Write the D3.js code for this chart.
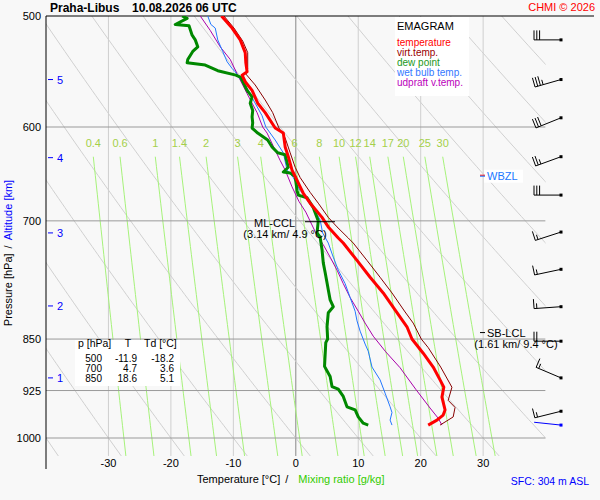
<!DOCTYPE html>
<html>
<head>
<meta charset="utf-8">
<script src="https://cdn.jsdelivr.net/npm/d3@7"></script>
<style>
body { margin: 0; background: #f8f8f8; }
svg { display: block; font-family: "Liberation Sans", Arial, sans-serif; }
</style>
</head>
<body>
<script>
// sounding data (p in hPa, T in °C)
tempP = [500,510,520,531,540,548,551,557,565,577,586,601,606,620,630,644,655,669,680,696,707,720,726,747,768,788,814,833,850,870,890,909,920,935,955,963,971,979]
tempT = [-11.9,-10.2,-8.9,-8.1,-8.0,-7.8,-8.6,-8.1,-7.0,-6.1,-4.9,-3.3,-2.0,-1.7,-1.2,-0.6,0.2,1.2,2.3,4.2,5.2,6.8,7.6,9.8,11.9,14.0,16.2,17.8,18.6,20.4,22.0,23.1,23.7,23.4,23.9,23.6,22.6,21.2]

virtP = [500,510,521,531,545,550,560,574,586,601,611,626,641,652,668,680,696,707,720,726,747,768,788,813,828,850,862,890,920,940,951,966,979]
virtT = [-11.5,-9.9,-8.5,-7.7,-7.7,-8.0,-6.5,-4.9,-3.7,-2.7,-1.7,-0.9,-0.1,0.7,2.3,3.6,5.2,6.6,8.4,9.2,11.4,13.5,15.4,17.5,18.8,20.1,21.2,23.2,25.0,24.4,25.5,25.2,23.1]

dewP = [500,502,507,508,516,520,526,530,537,540,542,547,551,553,565,571,577,584,590,596,601,606,613,620,626,628,641,646,647,651,666,671,674,685,700,714,719,734,750,762,775,784,797,806,814,833,850,855,889,904,919,923,934,950,955,966,976,979]
dewT = [-18.2,-17.4,-19.3,-17.1,-16.6,-16.1,-15.7,-16.5,-17.3,-17.4,-14.5,-12.5,-9.6,-8.8,-7.8,-7.0,-7.3,-6.9,-7.0,-6.9,-7.0,-6.1,-4.5,-3.8,-2.9,-1.7,-1.2,-2.0,-0.9,-0.1,0.2,0.4,1.8,2.8,3.6,3.4,3.9,4.2,4.4,4.7,5.0,5.2,5.5,6.0,5.2,5.0,5.1,4.8,4.6,5.5,5.8,6.8,7.6,8.2,9.5,10.0,10.8,11.6]

wetP = [500,507,510,520,530,539,545,548,553,563,575,589,600,613,626,644,652,666,674,684,699,714,726,743,759,776,794,812,825,839,857,867,890,909,929,950,959,971,979]
wetT = [-14.1,-13.6,-12.9,-12.5,-11.7,-11.0,-10.2,-9.7,-9.1,-7.8,-6.7,-5.4,-4.8,-3.3,-2.0,-1.4,-0.4,0.7,1.8,2.7,3.9,4.3,5.2,6.0,6.8,7.9,8.7,9.5,9.8,10.3,11.1,11.6,12.2,13.5,14.3,15.1,15.4,15.1,15.4]

parcelP = [500,512,526,537,551,568,586,600,606,634,644,662,678,690,714,728,743,759,776,794,812,828,846,868,891,923,952,968,979]
parcelT = [-15.3,-13.7,-12.1,-10.5,-9.3,-7.8,-6.2,-5.3,-4.6,-2.5,-1.7,-0.6,0.5,1.6,3.2,4.4,5.5,6.6,7.6,8.7,10.0,11.1,12.4,14.4,16.7,19.2,21.5,22.8,23.4]

// winds (deg, kt)
windP = [520,555,591,630,671,713,758,806,853,906,957,979]
windDir = [270,254,248,250,270,252,258,266,270,293,256,276]
windSpd = [30,35,30,25,30,15,15,15,20,15,15,0]

// table
tableP = [500,700,850]
tableT = [-11.9,4.7,18.6]
tableTd = [-18.2,3.6,5.1]

// axes
pTicks = [500,600,700,850,925,1000]
tTicks = [-30,-20,-10,0,10,20,30]
altKm = [1,2,3,4,5]
altP = [906,805,714,631,555]
mixW = [0.4,0.6,1,1.4,2,3,4,6,8,10,12,14,17,20,25,30]
thetas = d3.range(-50,140,10)

legendNames = ['temperature','virt.temp.','dew point','wet bulb temp.','udpraft v.temp.']
legendColors = ['#ff0000','#990000','#229922','#3377ff','#bb00bb']

function main(){
	w = 600
	h = 500
	pTop = 500
	pBot = 1030

	svg = d3.select('body').append('svg')
			.attr('width', w)
			.attr('height', h)

	svg.append('rect').attr('width', w).attr('height', h).attr('fill', '#f8f8f8')

	x = d3.scaleLinear().domain([-40, 40]).range([46, 545.6])
	y = d3.scaleLog().domain([500, 1000]).range([16, 438])

	svg.append('clipPath').attr('id', 'plot')
		.append('rect')
		.attr('x', x(-40)).attr('y', y(pTop))
		.attr('width', x(40) - x(-40)).attr('height', y(pBot) - y(pTop))

	grid = svg.append('g').attr('clip-path', 'url(#plot)')

	// temperature grid
	grid.selectAll('.vg').data(tTicks).enter()
		.append('line')
		.attr('x1', d => x(d)).attr('x2', d => x(d))
		.attr('y1', y(pTop)).attr('y2', y(pBot))
		.attr('stroke', d => d == 0 ? '#888' : '#cfcfcf')
		.attr('stroke-width', 1)

	// dry adiabats
	levels = d3.range(pTop, pBot + 1, 5)
	dry = d3.line()
		.x(d => x(d[1]))
		.y(d => y(d[0]))
	grid.selectAll('.dry').data(thetas).enter()
		.append('path')
		.attr('d', th => dry(levels.map(p => [p, (th + 273.15) * Math.pow(p / 1000, 0.2857) - 273.15])))
		.attr('fill', 'none')
		.attr('stroke', '#d0d0d0')
		.attr('stroke-width', 1)

	// mixing ratio lines
	function tdew(wr, p){
		let e = wr * p / (622 + wr)
		let l = Math.log(e / 6.112)
		return 243.5 * l / (17.67 - l)
	}
	mixLevels = d3.range(630, pBot + 1, 10)
	grid.selectAll('.mix').data(mixW).enter()
		.append('path')
		.attr('d', wr => dry(mixLevels.map(p => [p, tdew(wr, p)])))
		.attr('fill', 'none')
		.attr('stroke', '#a6f27a')
		.attr('stroke-width', 1)

	svg.selectAll('.mixlab').data(mixW).enter()
		.append('text')
		.attr('x', wr => x(tdew(wr, 630)))
		.attr('y', y(630) - 10)
		.attr('text-anchor', 'middle')
		.attr('font-size', 11)
		.attr('fill', '#a4d04a')
		.text(d => d)

	// pressure grid
	grid.selectAll('.hg').data(pTicks.slice(1)).enter()
		.append('line')
		.attr('x1', x(-40)).attr('x2', x(40))
		.attr('y1', d => y(d)).attr('y2', d => y(d))
		.attr('stroke', '#9a9a9a')

	// axes
	svg.append('line')
		.attr('x1', x(-40)).attr('x2', x(-40))
		.attr('y1', y(pTop)).attr('y2', 469)
		.attr('stroke', '#000')
	svg.append('line')
		.attr('x1', x(-40)).attr('x2', 594)
		.attr('y1', y(pTop)).attr('y2', y(pTop))
		.attr('stroke', '#000')

	svg.selectAll('.plab').data(pTicks).enter()
		.append('text')
		.attr('x', 41).attr('y', d => y(d) + 4)
		.attr('text-anchor', 'end')
		.attr('font-size', 11)
		.text(d => d)

	svg.selectAll('.tlab').data(tTicks).enter()
		.append('text')
		.attr('x', d => x(d)).attr('y', 467)
		.attr('text-anchor', 'middle')
		.attr('font-size', 11)
		.text(d => d)

	// altitude ticks
	alt = svg.selectAll('.alt').data(altKm).enter().append('g')
	alt.append('line')
		.attr('x1', 48).attr('x2', 53)
		.attr('y1', (d, i) => y(altP[i])).attr('y2', (d, i) => y(altP[i]))
		.attr('stroke', '#0000ff')
	alt.append('text')
		.attr('x', 57).attr('y', (d, i) => y(altP[i]) + 4)
		.attr('font-size', 11)
		.attr('fill', '#0000ff')
		.text(d => d)

	// axis titles
	yt = svg.append('text')
		.attr('transform', 'translate(12,253) rotate(-90)')
		.attr('text-anchor', 'middle')
		.attr('font-size', 11)
	yt.append('tspan').text('Pressure [hPa]')
	yt.append('tspan').attr('dx', 5).text('/')
	yt.append('tspan').attr('dx', 5).attr('fill', '#0000ff').text('Altitude [km]')

	xt = svg.append('text')
		.attr('x', 197).attr('y', 483)
		.attr('font-size', 11)
	xt.append('tspan').text('Temperature [°C]')
	xt.append('tspan').attr('dx', 5).text('/')
	xt.append('tspan').attr('dx', 10).attr('fill', '#33cc00').text('Mixing ratio [g/kg]')

	svg.append('text')
		.attr('x', 589).attr('y', 485)
		.attr('text-anchor', 'end')
		.attr('font-size', 10.5)
		.attr('fill', '#0000ff')
		.text('SFC: 304 m ASL')

	// title
	svg.append('text').attr('x', 50).attr('y', 11.5)
		.attr('font-size', 12).attr('font-weight', 'bold')
		.text('Praha-Libus')
	svg.append('text').attr('x', 132).attr('y', 11.5)
		.attr('font-size', 12).attr('font-weight', 'bold')
		.text('10.08.2026 06 UTC')
	svg.append('text').attr('x', 595).attr('y', 11)
		.attr('text-anchor', 'end')
		.attr('font-size', 11).attr('fill', '#ff0000')
		.text('CHMI © 2026')

	// legend
	svg.append('rect').attr('x', 395).attr('y', 17).attr('width', 74).attr('height', 79).attr('fill', '#fff')
	svg.append('text').attr('x', 397).attr('y', 30).attr('font-size', 11).text('EMAGRAM')
	svg.selectAll('.leg').data(legendNames).enter()
		.append('text')
		.attr('x', 397).attr('y', (d, i) => 46 + i * 10)
		.attr('font-size', 10)
		.attr('fill', (d, i) => legendColors[i])
		.text(d => d)

	// table
	svg.append('rect').attr('x', 75).attr('y', 340).attr('width', 105).attr('height', 46).attr('fill', '#fff')
	svg.append('text').attr('x', 78).attr('y', 347).attr('font-size', 10.5).text('p [hPa]')
	svg.append('text').attr('x', 128).attr('y', 347).attr('text-anchor', 'middle').attr('font-size', 10.5).text('T')
	svg.append('text').attr('x', 144).attr('y', 347).attr('font-size', 10.5).text('Td [°C]')
	rows = svg.selectAll('.row').data(tableP).enter().append('g')
	rows.append('text').attr('x', 102).attr('y', (d, i) => 361.5 + i * 10)
		.attr('text-anchor', 'end').attr('font-size', 10).text(d => d)
	rows.append('text').attr('x', 137).attr('y', (d, i) => 361.5 + i * 10)
		.attr('text-anchor', 'end').attr('font-size', 10).text((d, i) => tableT[i].toFixed(1))
	rows.append('text').attr('x', 174).attr('y', (d, i) => 361.5 + i * 10)
		.attr('text-anchor', 'end').attr('font-size', 10).text((d, i) => tableTd[i].toFixed(1))

	// profiles
	line = d3.line().x(d => x(d[1])).y(d => y(d[0]))
	function profile(ps, ts, color, width){
		svg.append('path')
			.attr('d', line(ps.map((p, i) => [p, ts[i]])))
			.attr('fill', 'none')
			.attr('stroke', color)
			.attr('stroke-width', width)
			.attr('stroke-linejoin', 'round')
			.attr('clip-path', 'url(#plot)')
	}
	profile(parcelP, parcelT, '#aa00aa', 1)
	profile(wetP, wetT, '#2277ff', 1)
	profile(virtP, virtT, '#880000', 1)
	profile(dewP, dewT, '#008800', 3)
	profile(tempP, tempT, '#ff0000', 3)

	// ML-CCL
	svg.append('line').attr('x1', 305).attr('x2', 335)
		.attr('y1', y(701)).attr('y2', y(701)).attr('stroke', '#000')
	svg.append('text').attr('x', 295).attr('y', y(701) + 5)
		.attr('text-anchor', 'end').attr('font-size', 11).text('ML-CCL')
	svg.append('text').attr('x', 285).attr('y', y(701) + 16)
		.attr('text-anchor', 'middle').attr('font-size', 11).text('(3.14 km/ 4.9 °C)')

	// SB-LCL
	svg.append('line').attr('x1', 480).attr('x2', 485)
		.attr('y1', y(841)).attr('y2', y(841)).attr('stroke', '#000')
	svg.append('text').attr('x', 487).attr('y', y(841) + 4)
		.attr('font-size', 11).text('SB-LCL')
	svg.append('text').attr('x', 516).attr('y', y(841) + 15)
		.attr('text-anchor', 'middle').attr('font-size', 11).text('(1.61 km/ 9.4 °C)')

	// WBZL
	svg.append('rect').attr('x', 484).attr('y', y(650) - 6).attr('width', 39).attr('height', 13).attr('fill', '#fff')
	svg.append('line').attr('x1', 480).attr('x2', 485)
		.attr('y1', y(650) - 0.5).attr('y2', y(650) - 0.5).attr('stroke', '#ff0000')
	svg.append('line').attr('x1', 480).attr('x2', 485)
		.attr('y1', y(650) + 0.5).attr('y2', y(650) + 0.5).attr('stroke', '#2277ff')
	svg.append('text').attr('x', 487).attr('y', y(650) + 4)
		.attr('font-size', 11).attr('fill', '#2277ff').text('WBZL')

	// wind barbs
	bx = 561
	windP.forEach((p, i) => {
		let py = y(p)
		let a = windDir[i] * Math.PI / 180
		let sx = Math.sin(a), sy = -Math.cos(a)
		let L = 27
		let ex = bx + sx * L, ey = py + sy * L
		let col = i == windP.length - 1 ? '#0000ff' : '#000'
		let g = svg.append('g').attr('stroke', col).attr('stroke-width', 1)
		g.append('line').attr('x1', bx).attr('y1', py).attr('x2', ex).attr('y2', ey)
		g.append('rect').attr('x', bx - 1.5).attr('y', py - 1.5).attr('width', 3).attr('height', 3)
			.attr('fill', col).attr('stroke', 'none')
		let spd = windSpd[i], k = 0
		function barb(len){
			let x0 = ex - sx * k * 2.8, y0 = ey - sy * k * 2.8
			g.append('line').attr('x1', x0).attr('y1', y0)
				.attr('x2', x0 - sy * len).attr('y2', y0 + sx * len)
			k++
		}
		while (spd >= 10) { barb(9.5); spd -= 10 }
		if (spd >= 5) barb(5)
	})
}

main()
</script>
</body>
</html>
